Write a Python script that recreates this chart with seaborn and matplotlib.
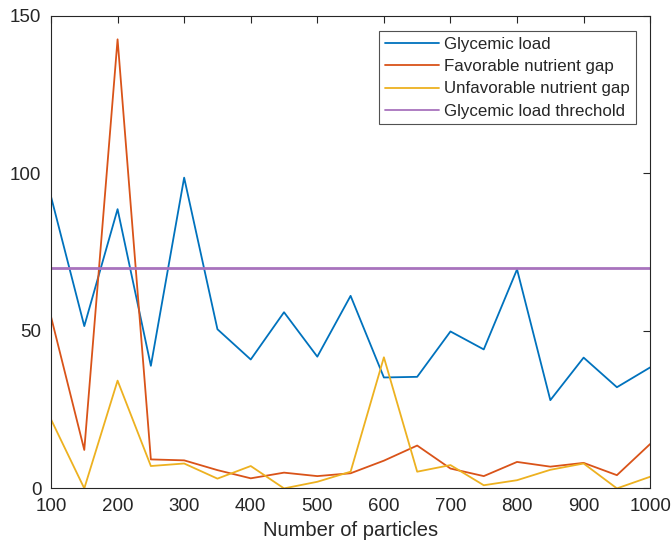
import numpy as np
import pandas as pd
import matplotlib
matplotlib.use("Agg")
import matplotlib.pyplot as plt
import seaborn as sns

particles = [100, 150, 200, 250, 300, 350, 400, 450, 500, 550,
             600, 650, 700, 750, 800, 850, 900, 950, 1000]
glycemic_load = [92.6, 51.5, 88.6, 38.9, 98.6, 50.5, 40.9, 55.9, 41.8, 61.1,
                 35.2, 35.4, 49.8, 44.1, 69.5, 28.0, 41.5, 32.1, 38.4]
favorable_gap = [54.5, 12.2, 142.5, 9.2, 8.9, 5.8, 3.2, 5.0, 3.9, 4.8,
                 8.8, 13.6, 6.3, 3.9, 8.4, 6.9, 8.1, 4.2, 14.1]
unfavorable_gap = [21.9, 0.0, 34.2, 7.1, 7.9, 3.1, 7.1, 0.0, 2.1, 5.3,
                   41.6, 5.3, 7.4, 1.0, 2.6, 5.9, 7.9, 0.0, 3.7]
threshold = 70.0

series_names = ["Glycemic load", "Favorable nutrient gap",
                "Unfavorable nutrient gap", "Glycemic load threchold"]
colors = ["#0072BD", "#D95319", "#EDB120", "#A873BD"]

df = pd.concat([
    pd.DataFrame({"x": particles, "y": glycemic_load, "s": series_names[0]}),
    pd.DataFrame({"x": particles, "y": favorable_gap, "s": series_names[1]}),
    pd.DataFrame({"x": particles, "y": unfavorable_gap, "s": series_names[2]}),
    pd.DataFrame({"x": particles, "y": [threshold] * len(particles), "s": series_names[3]}),
])

sns.set_style("white")
plt.rcParams["font.family"] = ["Liberation Sans", "DejaVu Sans"]

fig = plt.figure(figsize=(6.71, 5.5), dpi=100)
ax = fig.add_axes([0.076, 0.112, 0.893, 0.8595])

sns.lineplot(data=df, x="x", y="y", hue="s", hue_order=series_names,
             palette=colors, ax=ax, linewidth=1.3, sort=False)
lines = ax.get_lines()
if len(lines) >= 4:
    lines[3].set_linewidth(2.0)

ax.set_xlim(100, 1000)
ax.set_ylim(0, 150)
ax.set_xticks(range(100, 1001, 100))
ax.set_yticks([0, 50, 100, 150])
ax.set_xlabel("Number of particles", fontsize=14.5, color="#262626", labelpad=4)
ax.set_ylabel("")
ax.tick_params(axis="both", direction="in", top=True, right=True,
               length=5, width=0.8, labelsize=13.5, colors="#262626", pad=7)
for sp in ax.spines.values():
    sp.set_visible(True)
    sp.set_color("#262626")
    sp.set_linewidth(0.8)

leg = ax.legend(loc="upper right", bbox_to_anchor=(0.9755, 0.967), fontsize=12.2,
                frameon=True, fancybox=False, edgecolor="#262626",
                handlelength=3.2, borderpad=0.35, labelspacing=0.42,
                handletextpad=0.3, borderaxespad=0)
leg.get_frame().set_linewidth(0.8)
for h in leg.get_lines():
    h.set_linewidth(1.3)

fig.savefig("out.png", dpi=100)
